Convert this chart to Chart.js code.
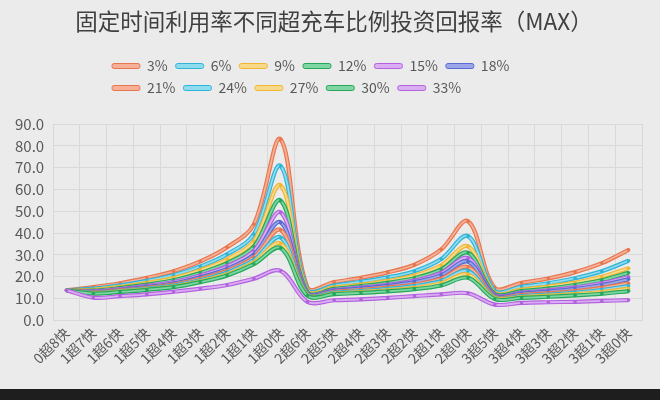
<!DOCTYPE html>
<html>
<head>
<meta charset="utf-8">
<script src="https://cdn.jsdelivr.net/npm/chart.js@4.4.0/dist/chart.umd.min.js"></script>
<style>
  html, body { margin: 0; padding: 0; background: #1e1e1e; }
  #wrap { width: 660px; height: 389px; background: #ebebeb; }
</style>
</head>
<body>
<div id="wrap"><canvas id="c"></canvas></div>
<script>
const categories = ['0超8快', '1超7快', '1超6快', '1超5快', '1超4快', '1超3快', '1超2快', '1超1快', '1超0快',
  '2超6快', '2超5快', '2超4快', '2超3快', '2超2快', '2超1快', '2超0快',
  '3超5快', '3超4快', '3超3快', '3超2快', '3超1快', '3超0快'];
const seriesNames = ['3%', '6%', '9%', '12%', '15%', '18%', '21%', '24%', '27%', '30%', '33%'];

const r3  = [13.8, 15.2, 17.0, 19.5, 22.5, 27.0, 33.5, 44.0, 83.0, 15.0, 17.5, 19.5, 22.0, 25.5, 32.5, 45.4, 14.9, 17.2, 19.2, 22.1, 26.2, 32.3];
const r6  = [13.8, 14.5, 16.0, 18.1, 20.7, 24.7, 30.3, 39.5, 70.7, 14.0, 16.0, 17.7, 19.7, 22.5, 28.1, 38.6, 13.6, 15.4, 17.0, 19.3, 22.5, 27.3];
const r9  = [13.8, 14.0, 15.3, 17.2, 19.4, 23.0, 28.0, 36.3, 61.8, 13.4, 15.1, 16.4, 18.1, 20.5, 25.2, 33.9, 12.6, 14.1, 15.5, 17.3, 20.0, 23.9];
const r12 = [13.8, 13.6, 14.8, 16.4, 18.4, 21.7, 26.2, 33.8, 54.9, 12.9, 14.4, 15.7, 17.2, 19.3, 23.3, 31.0, 12.1, 13.4, 14.5, 16.2, 18.4, 21.8];
const r15 = [13.8, 13.3, 14.3, 15.8, 17.6, 20.6, 24.8, 31.8, 49.5, 12.6, 13.9, 15.0, 16.3, 18.2, 21.7, 28.5, 11.6, 12.7, 13.7, 15.1, 17.0, 19.9];
const r18 = [13.8, 13.0, 13.9, 15.3, 16.9, 19.7, 23.6, 30.1, 44.9, 12.4, 13.6, 14.6, 15.8, 17.5, 20.7, 26.9, 11.3, 12.3, 13.2, 14.4, 16.2, 18.8];
const r21 = [13.8, 12.8, 13.7, 14.9, 16.4, 19.1, 22.7, 28.8, 41.4, 12.0, 13.1, 13.9, 15.0, 16.4, 19.1, 24.4, 10.8, 11.6, 12.4, 13.4, 14.9, 17.0];
const r24 = [13.8, 12.6, 13.4, 14.5, 15.9, 18.4, 21.9, 27.6, 38.0, 11.8, 12.7, 13.4, 14.4, 15.7, 18.0, 22.6, 10.4, 11.1, 11.8, 12.7, 13.9, 15.7];
const r27 = [13.8, 12.4, 13.2, 14.2, 15.5, 17.9, 21.1, 26.6, 35.2, 11.5, 12.3, 13.0, 13.8, 14.9, 17.0, 21.0, 10.1, 10.7, 11.3, 12.0, 13.0, 14.5];
const r30 = [13.8, 12.3, 13.0, 14.0, 15.2, 17.5, 20.6, 25.8, 33.1, 11.3, 12.0, 12.6, 13.3, 14.3, 16.0, 19.5, 9.8, 10.3, 10.8, 11.4, 12.2, 13.4];
const r33 = [13.8, 10.4, 11.1, 11.9, 13.1, 14.5, 16.2, 19.1, 22.7, 8.5, 9.2, 9.6, 10.3, 11.1, 11.9, 12.4, 7.2, 8.0, 8.3, 8.5, 8.9, 9.3];

const seriesValues = [r3, r6, r9, r12, r15, r18, r21, r24, r27, r30, r33];

// outer (darker) edge and lighter inner stroke for each line
const edgeColors = ['#e8764e', '#2fb4d6', '#efb636', '#25a85c', '#b262de', '#5a6bcf',
  '#e8764e', '#2fb4d6', '#efb636', '#25a85c', '#b262de'];
const fillColors = ['#f5b097', '#8fdbef', '#f8d98a', '#80d6a2', '#dbaef3', '#9ba6ea',
  '#f5b097', '#8fdbef', '#f8d98a', '#80d6a2', '#dbaef3'];

Chart.defaults.font.family = "'Noto Sans CJK SC', 'Noto Sans', sans-serif";
Chart.defaults.color = '#595959';

const datasets = [];
seriesValues.forEach((vals, s) => {
  const order = (seriesValues.length - s) * 2;
  datasets.push({
    label: seriesNames[s], data: vals,
    borderColor: fillColors[s], borderWidth: 1.8,
    pointRadius: 1.8, pointBackgroundColor: edgeColors[s], pointBorderWidth: 0,
    tension: 0.35, order: order
  });
  datasets.push({
    label: seriesNames[s] + ' edge', data: vals,
    borderColor: edgeColors[s], borderWidth: 4.2,
    pointRadius: 0, tension: 0.35, order: order + 1
  });
});

// legend laid out in two rows (6 + 5), starting from the same left edge;
// title nudged to the page centre
const legendRows = {
  id: 'legendRows',
  afterInit(chart) {
    const lg = chart.legend;
    const fit = lg.fit, draw = lg.draw;
    lg.fit = function () {
      const full = this.maxWidth;
      this.maxWidth = 440;
      fit.call(this);
      this.maxWidth = full;
      this.width = full;
      this.height += 19;
    };
    lg.draw = function () {
      const l = this.left, r = this.right;
      this.left = 104;
      this.right = 544;
      draw.call(this);
      this.left = l;
      this.right = r;
    };
  },
  afterLayout(chart) {
    const t = chart.titleBlock;
    t.left += 10;
    t.right += 10;
  }
};

new Chart(document.getElementById('c'), {
  type: 'line',
  data: { labels: categories, datasets: datasets },
  plugins: [legendRows],
  options: {
    responsive: true,
    maintainAspectRatio: false,
    animation: false,
    layout: { padding: { left: 6, right: 18, top: 0, bottom: 18 } },
    plugins: {
      title: {
        display: true,
        text: '固定时间利用率不同超充车比例投资回报率（MAX）',
        color: '#404040',
        font: { size: 22.5, weight: 'normal' },
        padding: { top: 8, bottom: 16 }
      },
      legend: {
        align: 'start',
        labels: {
          boxWidth: 28,
          boxHeight: 5,
          padding: 8,
          font: { size: 14 },
          color: '#595959',
          useBorderRadius: true,
          borderRadius: 2,
          generateLabels: () => seriesNames.map((name, s) => ({
            text: name,
            fillStyle: fillColors[s],
            strokeStyle: edgeColors[s],
            lineWidth: 1,
            datasetIndex: s * 2,
            hidden: false,
            fontColor: '#595959',
            borderRadius: 2
          }))
        }
      },
      tooltip: { enabled: false }
    },
    scales: {
      x: {
        offset: true,
        grid: { offset: true, color: '#d9d9d9', drawTicks: false },
        border: { color: '#d9d9d9' },
        ticks: { autoSkip: false, maxRotation: 45, minRotation: 45, font: { size: 14 }, padding: 4 }
      },
      y: {
        min: 0, max: 90,
        grid: { color: '#d9d9d9', drawTicks: false },
        border: { display: false },
        ticks: { stepSize: 10, padding: 9, font: { size: 15 }, callback: v => v.toFixed(1) }
      }
    }
  }
});
</script>
</body>
</html>
